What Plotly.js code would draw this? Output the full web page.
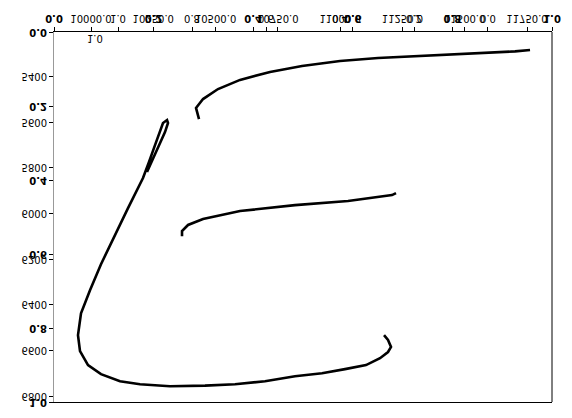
<!DOCTYPE html>
<html>
<head>
<meta charset="utf-8">
<script src="https://cdn.plot.ly/plotly-3.0.1.min.js"></script>
<style>
html,body{margin:0;padding:0;background:#fff;}
#plot{width:572px;height:418px;transform:scaleY(-1);transform-origin:50% 50%;}
</style>
</head>
<body>
<div id="plot"></div>
<script>
// Curve 1
const c1x = [10433.5,10421.5,10449.6,10509.8,10598.1,10718.5,10846.9,10999.4,11152.0,11320.6,11481.1,11601.5,11701.9,11762.1];
const c1y = [5586,5537,5498,5454,5414,5379,5353,5331,5318,5309,5303,5296,5289,5283];
// Curve 2
const c2x = [10365.3,10365.3,10389.4,10449.6,10598.1,10818.8,11031.6,11119.9,11208.2,11224.2];
const c2y = [6099,6077,6050,6024,5989,5963,5945,5932,5919,5910];
// Curve 3
const c3x = [10224.8,10264.9,10297.0,10309.1,10305.1,10289.0,10281.0,10256.9,10232.8,10208.7,10148.5,10092.3,10040.1,9996.0,9959.9,9947.8,9955.9,9988.0,10040.1,10116.4,10196.7,10317.1,10457.6,10578.0,10698.4,10818.8,10927.2,11019.5,11103.8,11160.0,11192.1,11204.2,11192.1,11176.1];
const c3y = [5818,5721,5643,5603,5590,5603,5625,5700,5774,5844,5976,6103,6222,6336,6437,6533,6603,6664,6704,6735,6748,6757,6754,6748,6735,6713,6700,6682,6664,6634,6607,6585,6554,6533];

const xTicks = [10000,10250,10500,10750,11000,11250,11500,11750];
const xTicksText = ['10000.0','10250.0','10500.0','10750.0','11000.0','11250.0','11500.0','11750.0'];
const yTicks = [5400,5600,5800,6000,6200,6400,6600,6800];
const unitTicks = [0,0.2,0.4,0.6,0.8,1.0];
const unitTicksText = ['0.0','0.2','0.4','0.6','0.8','1.0'];

const line = {color:'#000', width:2.6};
const traces = [
  {x:c1x, y:c1y, mode:'lines', line:line, xaxis:'x', yaxis:'y', hoverinfo:'skip'},
  {x:c2x, y:c2y, mode:'lines', line:line, xaxis:'x', yaxis:'y', hoverinfo:'skip'},
  {x:c3x, y:c3y, mode:'lines', line:line, xaxis:'x', yaxis:'y', hoverinfo:'skip'},
  {x:[null], y:[null], xaxis:'x2', yaxis:'y', hoverinfo:'skip'},
  {x:[null], y:[null], xaxis:'x3', yaxis:'y3', hoverinfo:'skip'}
];
const f = {family:'DejaVu Sans', size:10, color:'#000'};
const fb = {family:'DejaVu Sans', size:10, color:'#000', weight:'bold'};
const base = {showgrid:false, zeroline:false, ticks:'outside', ticklen:4, tickcolor:'#000', tickfont:f, showline:true, linecolor:'#000', linewidth:1};
const layout = {
  width:572, height:418,
  margin:{l:54, r:20, t:16, b:32},
  paper_bgcolor:'#fff', plot_bgcolor:'rgba(0,0,0,0)',
  showlegend:false,
  xaxis:Object.assign({}, base, {range:[9851.5,11850.3], tickmode:'array', tickvals:xTicks, ticktext:xTicksText, mirror:true}),
  yaxis:Object.assign({}, base, {range:[5204,6826], tickmode:'array', tickvals:yTicks, ticktext:yTicks.map(String), linecolor:'#999'}),
  xaxis2:Object.assign({}, base, {overlaying:'x', anchor:'y', side:'bottom', range:[1.173,-0.173], tickmode:'array', tickvals:unitTicks, ticktext:unitTicksText}),
  xaxis3:Object.assign({}, base, {overlaying:'x', anchor:'y3', side:'bottom', range:[0,1], tickmode:'array', tickvals:unitTicks, ticktext:unitTicksText, tickfont:fb}),
  yaxis3:Object.assign({}, base, {overlaying:'y', anchor:'x3', side:'left', range:[0,1], tickmode:'array', tickvals:unitTicks, ticktext:unitTicksText, linecolor:'#999', tickfont:fb}),
  shapes:[
    {type:'line', xref:'paper', yref:'paper', x0:1, x1:1, y0:0, y1:1, line:{color:'#000', width:1}}
  ],
  annotations:[
    {xref:'paper', yref:'paper', x:0.0823, y:-0.004, xanchor:'center', yanchor:'bottom', text:'1.0', showarrow:false, font:f}
  ]
};
Plotly.newPlot('plot', traces, layout, {staticPlot:true, displayModeBar:false});
</script>
</body>
</html>
